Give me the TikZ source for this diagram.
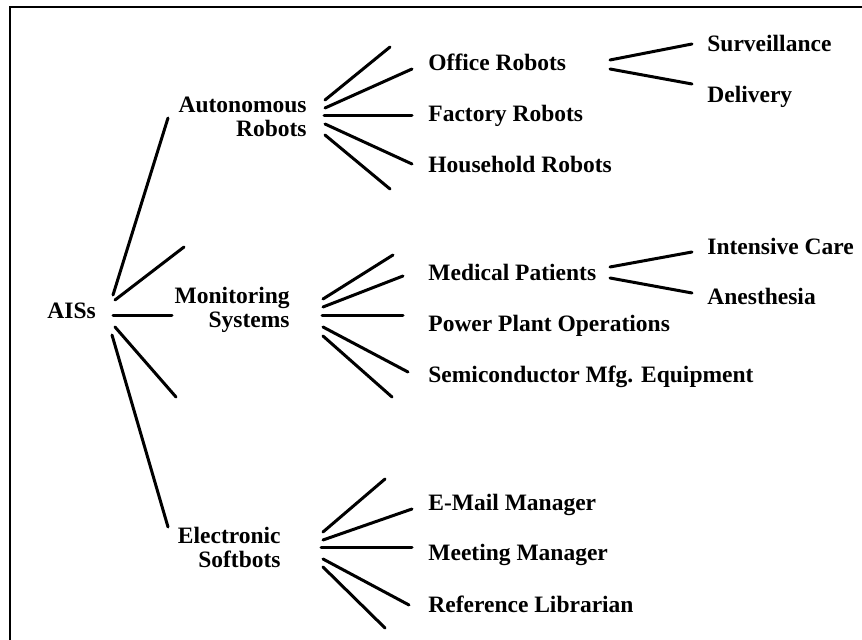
\documentclass[tikz,border=0pt]{standalone}
\usepackage{fontspec}
\setmainfont{Liberation Serif}
\usetikzlibrary{positioning}

\begin{document}
\begin{tikzpicture}
[
x=0.5pt, y=-0.5pt,
tree frame/.style={line width=1pt},
tree line/.style={line width=1.5pt, line cap=round},
tree text/.style={font=\fontsize{11.75}{12}\selectfont\bfseries, inner sep=0pt},
tree parent/.style={tree text, align=right, anchor=east},
tree leaf/.style={tree text, anchor=base west}
]

\useasboundingbox (0,0) rectangle (862,640);
\draw[tree frame] (10,7) rectangle (880,660);

% root
\node[tree text, anchor=base west] (ais) at (47,319) {AISs};

% second level
\node[tree parent] (ar) at (307,117) {Autonomous\\Robots};
\node[tree parent] (ms) at (290,310) {Monitoring\\Systems};
\node[tree parent] (es) at (281,547) {Electronic\\Softbots};

% leaves of Autonomous Robots
\node[tree leaf] (office) at (428,71) {Office Robots};
\node[tree leaf, below=25.5pt of office.base west, anchor=base west] (factory) {Factory Robots};
\node[tree leaf, below=25.5pt of factory.base west, anchor=base west] (household) {Household Robots};
\node[tree leaf] (surv) at (707,52) {Surveillance};
\node[tree leaf, below=25.5pt of surv.base west, anchor=base west] (deliv) {Delivery};

% leaves of Monitoring Systems
\node[tree leaf] (medical) at (428,281) {Medical Patients};
\node[tree leaf, below=25.5pt of medical.base west, anchor=base west] (power) {Power Plant Operations};
\node[tree leaf, below=25.5pt of power.base west, anchor=base west] (semi) {Semiconductor Mfg. Equipment};
\node[tree leaf] (intensive) at (707,255) {Intensive Care};
\node[tree leaf, below=25pt of intensive.base west, anchor=base west] (anesth) {Anesthesia};

% leaves of Electronic Softbots
\node[tree leaf] (email) at (428,511) {E-Mail Manager};
\node[tree leaf, below=25pt of email.base west, anchor=base west] (meeting) {Meeting Manager};
\node[tree leaf, below=25.5pt of meeting.base west, anchor=base west] (reference) {Reference Librarian};

% AISs fan
\coordinate (ais-1) at (113,295);
\coordinate (ais-2) at (115,300);
\coordinate (ais-3) at (113,316);
\coordinate (ais-4) at (115,327);
\coordinate (ais-5) at (112,335);
\coordinate (ar-in) at (168,118);
\coordinate (ais-up) at (184,247);
\coordinate (ms-in) at (172,316);
\coordinate (ais-down) at (176,397);
\coordinate (es-in) at (168,527);
\draw[tree line] (ais-1) -- (ar-in);
\draw[tree line] (ais-2) -- (ais-up);
\draw[tree line] (ais-3) -- (ms-in);
\draw[tree line] (ais-4) -- (ais-down);
\draw[tree line] (ais-5) -- (es-in);

% Autonomous Robots fan
\coordinate (ar-1) at (325,100);
\coordinate (ar-2) at (325,108);
\coordinate (ar-3) at (324,116);
\coordinate (ar-4) at (325,124);
\coordinate (ar-5) at (325,135);
\coordinate (ar-up) at (390,47);
\coordinate (office-in) at (412,69);
\coordinate (factory-in) at (412,116);
\coordinate (household-in) at (412,164);
\coordinate (ar-down) at (390,189);
\draw[tree line] (ar-1) -- (ar-up);
\draw[tree line] (ar-2) -- (office-in);
\draw[tree line] (ar-3) -- (factory-in);
\draw[tree line] (ar-4) -- (household-in);
\draw[tree line] (ar-5) -- (ar-down);

% Office Robots fan
\coordinate (office-1) at (610,60);
\coordinate (office-2) at (610,69);
\coordinate (surv-in) at (692,44);
\coordinate (deliv-in) at (692,84);
\draw[tree line] (office-1) -- (surv-in);
\draw[tree line] (office-2) -- (deliv-in);

% Monitoring Systems fan
\coordinate (ms-1) at (323,299);
\coordinate (ms-2) at (323,307);
\coordinate (ms-3) at (322,316);
\coordinate (ms-4) at (323,327);
\coordinate (ms-5) at (323,336);
\coordinate (ms-up) at (393,255);
\coordinate (medical-in) at (403,276);
\coordinate (power-in) at (403,316);
\coordinate (semi-in) at (408,372);
\coordinate (ms-down) at (392,397);
\draw[tree line] (ms-1) -- (ms-up);
\draw[tree line] (ms-2) -- (medical-in);
\draw[tree line] (ms-3) -- (power-in);
\draw[tree line] (ms-4) -- (semi-in);
\draw[tree line] (ms-5) -- (ms-down);

% Medical Patients fan
\coordinate (medical-1) at (610,267);
\coordinate (medical-2) at (610,278);
\coordinate (intensive-in) at (692,252);
\coordinate (anesth-in) at (692,293);
\draw[tree line] (medical-1) -- (intensive-in);
\draw[tree line] (medical-2) -- (anesth-in);

% Electronic Softbots fan
\coordinate (es-1) at (323,532);
\coordinate (es-2) at (323,540);
\coordinate (es-3) at (321,548);
\coordinate (es-4) at (323,559);
\coordinate (es-5) at (323,567);
\coordinate (es-up) at (385,479);
\coordinate (email-in) at (412,509);
\coordinate (meeting-in) at (412,548);
\coordinate (reference-in) at (409,605);
\coordinate (es-down) at (385,628);
\draw[tree line] (es-1) -- (es-up);
\draw[tree line] (es-2) -- (email-in);
\draw[tree line] (es-3) -- (meeting-in);
\draw[tree line] (es-4) -- (reference-in);
\draw[tree line] (es-5) -- (es-down);

\end{tikzpicture}
\end{document}
